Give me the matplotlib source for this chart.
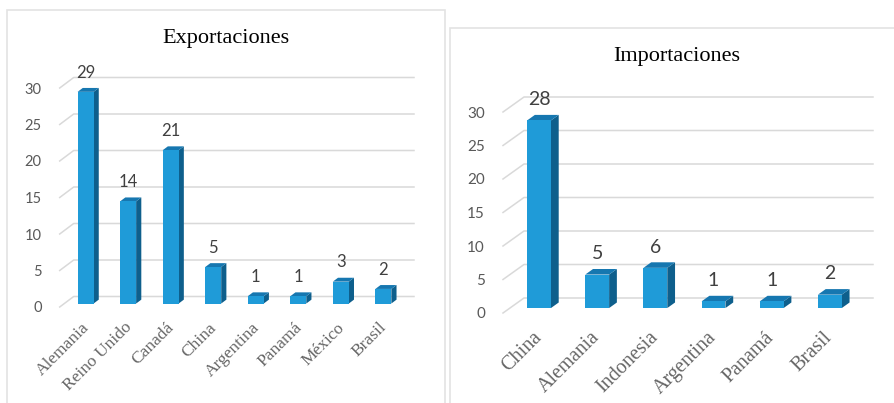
import matplotlib.pyplot as plt
from matplotlib.patches import Polygon, Rectangle

# datos
exp_paises = ['Alemania', 'Reino Unido', 'Canadá', 'China', 'Argentina', 'Panamá', 'México', 'Brasil']
exp_valores = [29, 14, 21, 5, 1, 1, 3, 2]

imp_paises = ['China', 'Alemania', 'Indonesia', 'Argentina', 'Panamá', 'Brasil']
imp_valores = [28, 5, 6, 1, 1, 2]

y_ticks = [0, 5, 10, 15, 20, 25, 30]

W, H = 894, 403
FRONT = '#1f9bd8'
TOP = '#1677b0'
SIDE = '#0e5f8c'
GRID = '#d9d9d9'
SANS = ['Lato', 'DejaVu Sans']
SERIF = ['Liberation Serif', 'DejaVu Serif']

fig = plt.figure(figsize=(W / 100, H / 100), dpi=100)


def px_rect(x0, y0, x1, y1):
    # pixeles (origen arriba a la izquierda) -> fracciones de la figura
    return [x0 / W, 1 - y1 / H, (x1 - x0) / W, (y1 - y0) / H]


def panel(box, area, titulo, title_xy, paises, valores, depth_px, bar_w,
          lab_size, tick_size, xlab_size, xlab_pad):
    # marco del panel
    bx0, by0, bx1, by1 = box
    fig.add_artist(Rectangle((bx0 / W, 1 - by1 / H), (bx1 - bx0) / W, (by1 - by0) / H,
                             transform=fig.transFigure, fill=False, ec='#e3e3e3', lw=1.2))
    fig.text(title_xy[0] / W, 1 - title_xy[1] / H, titulo, ha='center', va='center',
             fontsize=16, family=SERIF, color='black')

    ax = fig.add_axes(px_rect(*area))
    n = len(paises)
    ax.set_xlim(-0.5, n - 0.5)
    ax.set_ylim(0, 30)
    for s in ax.spines.values():
        s.set_visible(False)

    # profundidad en unidades de datos
    sx = (area[2] - area[0]) / n
    sy = (area[3] - area[1]) / 30
    ddx = depth_px[0] / sx
    ddy = depth_px[1] / sy
    f, b = 0.33, 0.7

    # rejilla en el plano de fondo y líneas del suelo
    for t in y_ticks:
        ax.plot([-0.5, -0.5 + ddx, n - 0.5 + ddx], [t, t + ddy, t + ddy],
                color=GRID, lw=1.1, clip_on=False, zorder=1)

    for i, v in enumerate(valores):
        x0 = i - bar_w / 2 + f * ddx
        x1 = i + bar_w / 2 + f * ddx
        y0 = f * ddy
        y1 = v + f * ddy
        ex, ey = (b - f) * ddx, (b - f) * ddy
        ax.add_patch(Polygon([(x1, y0), (x1 + ex, y0 + ey), (x1 + ex, y1 + ey), (x1, y1)],
                             closed=True, fc=SIDE, ec='none', clip_on=False, zorder=3))
        ax.add_patch(Polygon([(x0, y1), (x1, y1), (x1 + ex, y1 + ey), (x0 + ex, y1 + ey)],
                             closed=True, fc=TOP, ec='none', clip_on=False, zorder=3))
        ax.add_patch(Rectangle((x0, y0), x1 - x0, y1 - y0, fc=FRONT, ec='none',
                               clip_on=False, zorder=4))
        ax.annotate(str(v), (i + f * ddx, v + b * ddy), xytext=(0, 11),
                    textcoords='offset points', ha='center', va='center',
                    fontsize=lab_size, family=SANS, color='#404040')

    ax.set_yticks(y_ticks)
    ax.set_yticklabels([str(t) for t in y_ticks], family=SANS, fontsize=tick_size,
                       color='#595959')
    ax.tick_params(axis='y', length=0, pad=13)
    ax.set_xticks(range(n))
    ax.set_xticklabels(paises, rotation=45, ha='right', rotation_mode='anchor',
                       family=SERIF, fontsize=xlab_size, color='#666666')
    ax.tick_params(axis='x', length=0, pad=xlab_pad)
    return ax


panel((7, 10, 445, 410), (59.7, 88, 400, 307), 'Exportaciones', (226, 38),
      exp_paises, exp_valores, (14, 10.5), 0.376, 12, 10.5, 12.5, 9)
panel((450, 28, 900, 410), (503, 112, 852, 313), 'Importaciones', (677, 57),
      imp_paises, imp_valores, (21, 15), 0.41, 14, 11, 14.5, 11)

fig.savefig('out.png', dpi=100)
